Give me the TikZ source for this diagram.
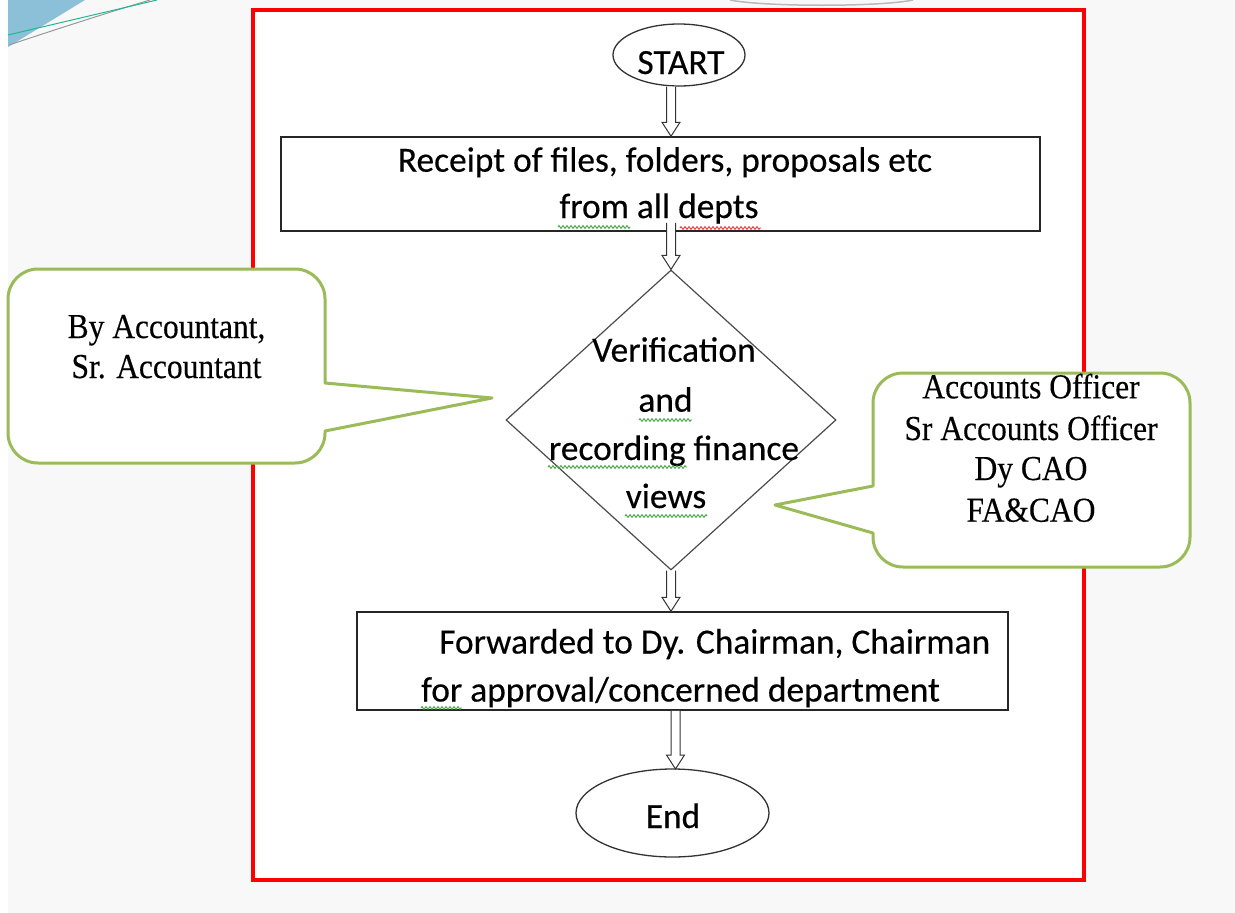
\documentclass[tikz,border=0pt]{standalone}
\usepackage{fontspec}
\setmainfont{Carlito}[FakeBold=0.35]
\newfontfamily\calloutfont[FakeStretch=0.9,FakeBold=0.3]{Liberation Serif}
\usetikzlibrary{shapes.geometric,calc,decorations.pathmorphing}
\definecolor{cgreen}{HTML}{9BBB59}
\definecolor{spellgreen}{HTML}{3FA33F}
\definecolor{spellred}{HTML}{F03030}
\definecolor{bgray}{HTML}{F8F8F8}
\definecolor{sblue}{HTML}{8CC0D8}
\definecolor{sgreenline}{HTML}{20B890}
\begin{document}
\begin{tikzpicture}[x=1pt,y=-1pt,
  ftext/.style={font=\fontsize{35.4}{42}\selectfont, inner sep=0pt, anchor=base, text=black},
  ctext/.style={font=\calloutfont\fontsize{35}{42}\selectfont, inner sep=0pt, anchor=base, text=black},
  boxnode/.style={draw=black!85, line width=1.5pt, fill=white, inner sep=0pt},
  termnode/.style={ellipse, draw=black!80, line width=1.3pt, fill=white, inner sep=0pt},
  callout/.style={draw=cgreen, line width=3pt, fill=white, line join=round},
  spellg/.style={spellgreen, line width=0.9pt, decorate, decoration={zigzag, segment length=4pt, amplitude=1.4pt}},
  spellr/.style={spellred, line width=0.9pt, decorate, decoration={zigzag, segment length=4pt, amplitude=1.4pt}},
  blockarrow/.style={draw=black!80, line width=1pt, fill=white,
    to path={let \p1=(\tikztostart), \p2=(\tikztotarget) in
      ({\x1-4.5pt},\y1) -- ({\x1-4.5pt},{\y2+14pt}) -- ({\x1-9pt},{\y2+14pt}) -- (\x1,\y2)
      -- ({\x1+9pt},{\y2+14pt}) -- ({\x1+4.5pt},{\y2+14pt}) -- ({\x1+4.5pt},\y1)}}
]
\useasboundingbox (0,0) rectangle (1235,913);
% background
\fill[bgray] (0,0) rectangle (1235,913);
\fill[white] (0,0) rectangle (8,913);
\fill[sblue] (8,0) -- (85,0) -- (8,47) -- cycle;
\draw[gray!80, line width=1pt] (9,45) .. controls (60,28) and (110,12) .. (150,0);
\draw[sgreenline, line width=1pt] (8,35) -- (157,0);
\draw[gray!55, line width=1.5pt] (730,0) .. controls (765,7) and (880,7) .. (913,0);
% frame
\draw[red, line width=3.5pt, fill=white] (253,10) rectangle (1084,880);

% callouts
\draw[callout] (325,431) -- (325,433) arc[start angle=0,end angle=-90,radius=30pt]
  -- (38,463) arc[start angle=-90,end angle=-180,radius=30pt]
  -- (8,299) arc[start angle=180,end angle=90,radius=30pt]
  -- (295,269) arc[start angle=90,end angle=0,radius=30pt]
  -- (325,383) -- (492,398) -- cycle;
\draw[callout] (873,486) -- (873,403) arc[start angle=180,end angle=90,radius=30pt]
  -- (1160,373) arc[start angle=90,end angle=0,radius=30pt]
  -- (1190,537) arc[start angle=0,end angle=-90,radius=30pt]
  -- (903,567) arc[start angle=-90,end angle=-180,radius=30pt]
  -- (873,533) -- (775,505) -- cycle;

% shapes
\node[termnode, minimum width=132pt, minimum height=62pt] (st) at (679,55) {};
\node[boxnode, minimum width=759pt, minimum height=94pt] (r1) at (660.5,184) {};
\node[diamond, draw=black!70, line width=1.2pt, fill=white, minimum width=330pt, minimum height=300pt, inner sep=0pt] (dm) at (671,420) {};
\node[boxnode, minimum width=651pt, minimum height=98pt] (r2) at (682.5,661) {};
\node[termnode, minimum width=193pt, minimum height=88pt] (en) at (672.5,813) {};

% connectors
\draw[blockarrow] (st.south -| dm.north) to (r1.north -| dm.north);
\draw[blockarrow] ([yshift=9pt]r1.south -| dm.north) to (dm.north);
\draw[blockarrow] (dm.south) to (r2.north -| dm.south);
\draw[blockarrow] (r2.south -| 675.5,0) to (675.5,769);

% texts
\node[ftext] (stt) at (681,74) {START};
\node[ftext] (r1a) at (665,171.7) {Receipt of files, folders, proposals etc};
\node[ftext] (r1b) at (659,218) {from all depts};
\node[ftext] (d1) at (674,361.7) {Verification};
\node[ftext] (d2) at (665.5,411.7) {and};
\node[ftext] (d3) at (674,460) {recording finance};
\node[ftext] (d4) at (666,508) {views};
\node[ftext, anchor=base west] (r2a) at (439,653.5) {Forwarded to Dy. Chairman, Chairman};
\node[ftext, anchor=base west] (r2b) at (421,701.5) {for approval/concerned department};
\node[ftext] (ent) at (673,828) {End};

\node[ctext] (la) at (166.5,338) {By Accountant,};
\node[ctext] (lb) at (166.5,378) {Sr. Accountant};
\node[ctext] (ra) at (1031,398.3) {Accounts Officer};
\node[ctext] (rb) at (1031,440) {Sr Accounts Officer};
\node[ctext] (rc) at (1031,480) {Dy CAO};
\node[ctext] (rd) at (1031,521.7) {FA\&CAO};

% spelling underlines
\draw[spellg] (558,227) -- (630,227);
\draw[spellr] (680,228) -- (761,228);
\draw[spellg] (639,420) -- (692,420);
\draw[spellg] (548,467) -- (687,467);
\draw[spellg] (625,516) -- (707,516);
\draw[spellg] (421,708) -- (462,708);
\end{tikzpicture}
\end{document}
